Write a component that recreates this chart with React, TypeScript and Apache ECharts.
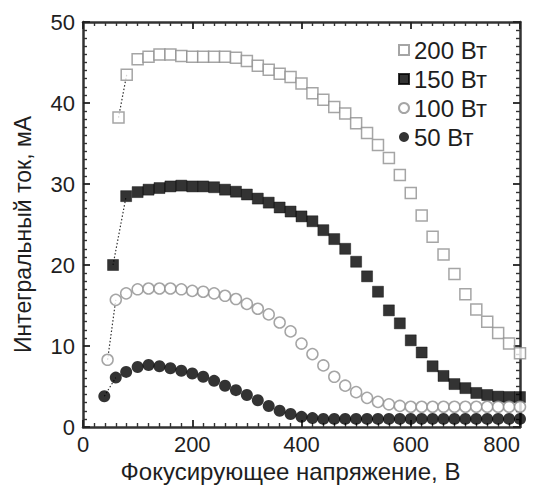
import React, { useEffect, useRef } from 'react';
import * as echarts from 'echarts';

// Focusing voltage (V) shared by all series from 100 V on
const voltage = [100, 120, 140, 160, 180, 200, 220, 240, 260, 280, 300, 320, 340, 360, 380, 400, 420, 440, 460, 480, 500, 520, 540, 560, 580, 600, 620, 640, 660, 680, 700, 720, 740, 760, 780, 800];

// Leading points (below 100 V)
const headX200 = [65, 80];
const headY200 = [38.2, 43.5];
const headX150 = [55, 79];
const headY150 = [20.0, 28.5];
const headX100 = [45, 60, 79];
const headY100 = [8.3, 15.7, 16.5];
const headX50 = [39, 60, 79];
const headY50 = [3.8, 6.1, 6.8];

// Integral current (mA)
const current200 = [45.4, 45.7, 46.0, 46.0, 45.8, 45.7, 45.7, 45.7, 45.7, 45.6, 45.2, 44.6, 44.1, 43.6, 43.2, 42.4, 41.2, 40.4, 39.5, 38.7, 37.5, 36.3, 34.8, 33.2, 31.1, 28.9, 26.1, 23.5, 21.3, 18.9, 16.4, 14.5, 13.0, 11.6, 10.3, 9.1];
const current150 = [29.0, 29.3, 29.5, 29.7, 29.8, 29.7, 29.7, 29.6, 29.3, 29.05, 28.7, 28.2, 27.7, 27.1, 26.6, 26.0, 25.4, 24.3, 23.2, 22.0, 20.4, 18.6, 16.7, 14.4, 12.8, 10.7, 9.2, 7.5, 6.3, 5.3, 4.8, 4.2, 3.95, 3.75, 3.7, 3.7];
const current100 = [17.0, 17.1, 17.1, 17.1, 17.0, 16.8, 16.7, 16.5, 16.2, 15.8, 15.2, 14.6, 13.9, 12.9, 11.8, 10.3, 9.0, 7.6, 6.2, 5.1, 4.3, 3.6, 3.1, 2.8, 2.6, 2.5, 2.5, 2.5, 2.5, 2.5, 2.5, 2.5, 2.5, 2.5, 2.5, 2.5];
const current50 = [7.4, 7.65, 7.5, 7.25, 6.95, 6.6, 6.2, 5.7, 5.1, 4.55, 3.95, 3.3, 2.6, 2.0, 1.6, 1.25, 1.1, 1.0, 1.0, 1.0, 1.0, 1.0, 1.0, 1.0, 1.0, 1.0, 1.0, 1.0, 1.0, 1.0, 1.0, 1.0, 1.0, 1.0, 1.0, 1.0];

const seriesNames = ['200 Вт', '150 Вт', '100 Вт', '50 Вт'];
const xTicks = [0, 200, 400, 600, 800];
const yTicks = [0, 10, 20, 30, 40, 50];

const xAxisTitle = 'Фокусирующее напряжение, В';
const yAxisTitle = 'Интегральный ток, мА';

function pairs(hx: number[], hy: number[], ys: number[]) {
  const out: number[][] = [];
  hx.forEach((x, i) => out.push([x, hy[i]]));
  voltage.forEach((x, i) => out.push([x, ys[i]]));
  return out;
}

const FONT = '"Liberation Sans", Arial, sans-serif';
const GRAY = '#8f8f8f';
const TEXT = '#1e1e1e';
const FRAME = '#333333';

const mkLine = () => ({ show: true, onZero: false, lineStyle: { color: FRAME, width: 2.5 } });
const mkTick = () => ({ show: true, inside: true, length: 7, lineStyle: { color: '#222', width: 1.8 } });
const mkMinor = () => ({ show: true, splitNumber: 10, length: 4, lineStyle: { color: '#333', width: 1.4 } });

export default function App() {
  const ref = useRef<HTMLDivElement>(null);
  useEffect(() => {
    if (!ref.current) return;
    const chart = echarts.init(ref.current, undefined, { renderer: 'svg' });
    const d200 = pairs(headX200, headY200, current200);
    const d150 = pairs(headX150, headY150, current150);
    const d100 = pairs(headX100, headY100, current100);
    const d50 = pairs(headX50, headY50, current50);

    const dotted = (data: number[][]) => ({
      type: 'line',
      data: data.slice(0, 2),
      symbol: 'none',
      silent: true,
      z: 1,
      lineStyle: { color: '#333', width: 1.2, type: [1.5, 2] },
    });

    chart.setOption({
      animation: false,
      textStyle: { fontFamily: FONT },
      grid: {
        left: 83,
        right: 16,
        top: 22,
        bottom: 59,
        outerBoundsMode: 'none',
      },
      legend: {
        orient: 'vertical',
        left: 393,
        top: 33,
        itemWidth: 10,
        itemHeight: 10,
        itemGap: 5,
        data: seriesNames,
        textStyle: { fontFamily: FONT, fontSize: 24, color: TEXT },
      },
      xAxis: [
        {
          type: 'value',
          position: 'bottom',
          min: xTicks[0],
          max: xTicks[xTicks.length - 1],
          interval: 200,
          name: xAxisTitle,
          nameLocation: 'middle',
          nameGap: 29,
          nameTextStyle: { fontFamily: FONT, fontSize: 24, lineHeight: 24, color: TEXT, padding: [0, 22, 0, 0] },
          axisLine: mkLine(),
          axisTick: mkTick(),
          minorTick: mkMinor(),
          splitLine: { show: false },
          axisLabel: { fontFamily: FONT, fontSize: 22, color: TEXT, margin: 6, alignMaxLabel: 'right' },
        },
        {
          type: 'value',
          position: 'top',
          min: 0,
          max: 800,
          interval: 200,
          axisLine: mkLine(),
          axisTick: mkTick(),
          minorTick: mkMinor(),
          splitLine: { show: false },
          axisLabel: { show: false },
        },
      ],
      yAxis: [
        {
          type: 'value',
          position: 'left',
          min: yTicks[0],
          max: yTicks[yTicks.length - 1],
          interval: 10,
          name: yAxisTitle,
          nameLocation: 'middle',
          nameGap: 48,
          nameTextStyle: { fontFamily: FONT, fontSize: 23, lineHeight: 24, color: TEXT, padding: [0, 20, 0, 0] },
          axisLine: mkLine(),
          axisTick: mkTick(),
          minorTick: mkMinor(),
          splitLine: { show: false },
          axisLabel: { fontFamily: FONT, fontSize: 22, color: TEXT, margin: 8 },
        },
        {
          type: 'value',
          position: 'right',
          min: 0,
          max: 50,
          interval: 10,
          axisLine: mkLine(),
          axisTick: mkTick(),
          minorTick: mkMinor(),
          splitLine: { show: false },
          axisLabel: { show: false },
        },
      ],
      series: [
        dotted(d200),
        dotted(d150),
        dotted(d100),
        dotted(d50),
        {
          name: seriesNames[0],
          type: 'scatter',
          data: d200,
          symbol: 'rect',
          symbolSize: 11,
          z: 3,
          itemStyle: { color: '#fff', borderColor: GRAY, borderWidth: 1.5 },
        },
        {
          name: seriesNames[1],
          type: 'scatter',
          data: d150,
          symbol: 'rect',
          symbolSize: 11,
          z: 3,
          itemStyle: { color: '#000', borderColor: '#000', borderWidth: 0.5 },
        },
        {
          name: seriesNames[2],
          type: 'scatter',
          data: d100,
          symbol: 'circle',
          symbolSize: 11,
          z: 3,
          itemStyle: { color: '#fff', borderColor: GRAY, borderWidth: 1.5 },
        },
        {
          name: seriesNames[3],
          type: 'scatter',
          data: d50,
          symbol: 'circle',
          symbolSize: 12,
          z: 3,
          itemStyle: { color: '#000' },
        },
      ],
    });
    return () => chart.dispose();
  }, []);
  return <div ref={ref} style={{ position: 'fixed', left: 0, top: 0, width: 536, height: 486, background: '#fff' }} />;
}
